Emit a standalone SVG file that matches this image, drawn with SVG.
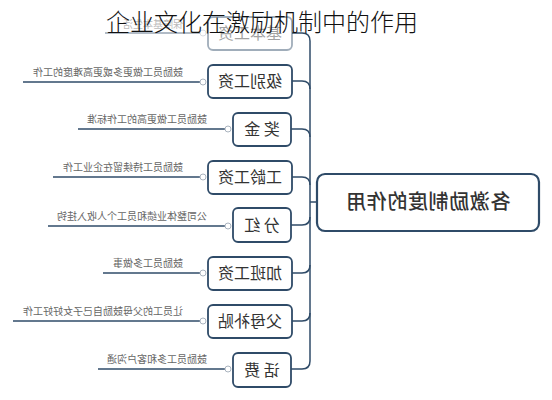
<svg xmlns="http://www.w3.org/2000/svg" width="552" height="400" viewBox="0 0 552 400">
<style>
.box{fill:#fff;stroke:#2f4b68;stroke-width:1.8}
.root{fill:#fff;stroke:#2f4b68;stroke-width:2.2}
.nt{font-family:"Noto Sans CJK SC","Noto Sans",sans-serif;font-size:16px;fill:#333;text-anchor:middle}
.rt{font-family:"Noto Sans CJK SC","Noto Sans",sans-serif;font-size:20px;font-weight:500;fill:#333;text-anchor:middle;letter-spacing:0.6px}
.lt{font-family:"Noto Sans CJK SC","Noto Sans",sans-serif;font-size:10px;fill:#666}
.ln{fill:none;stroke:#2f4b68;stroke-width:1.5}
.dot{fill:#fff;stroke:#aab4bf;stroke-width:1}
</style>
<g transform="matrix(-1 0 0 1 552 0)">
<g id="connectors">
<path class="ln" d="M242,41 V361"/>
<path class="ln" d="M242,202 H235"/>
<path class="ln" d="M260,33 H250 Q242,33 242,41"/>
<path class="ln" d="M260,81 H250 Q242,81 242,89"/>
<path class="ln" d="M261,129 H250 Q242,129 242,137"/>
<path class="ln" d="M260,177 H250 Q242,177 242,185"/>
<path class="ln" d="M261,225 H250 Q242,225 242,217"/>
<path class="ln" d="M260,273 H250 Q242,273 242,265"/>
<path class="ln" d="M260,321 H250 Q242,321 242,313"/>
<path class="ln" d="M261,369 H250 Q242,369 242,361"/>
<path class="ln" d="M352,33 H447" opacity="0.5"/>
<path class="ln" d="M352,82 H529"/>
<path class="ln" d="M327,129 H474"/>
<path class="ln" d="M352,177 H499"/>
<path class="ln" d="M327,226 H504"/>
<path class="ln" d="M352,273 H449"/>
<path class="ln" d="M352,321 H539"/>
<path class="ln" d="M327,369 H454"/>
</g>
<g id="root">
<rect class="root" x="13" y="174" width="222" height="57" rx="8"/>
<text class="rt" x="124" y="209">各激励制度的作用</text>
</g>
<g id="n1" opacity="0.45">
<rect class="box" x="260" y="17" width="84" height="33" rx="5"/>
<text class="nt" x="302" y="39">基本工资</text>
<circle class="dot" cx="349" cy="33" r="3"/>
<text class="lt" x="369" y="28">保障基本生活</text>
</g>
<g id="n2">
<rect class="box" x="260" y="65" width="84" height="33" rx="5"/>
<text class="nt" x="302" y="87">级别工资</text>
<circle class="dot" cx="349" cy="82" r="3"/>
<text class="lt" x="369" y="76">鼓励员工做更多或更高难度的工作</text>
</g>
<g id="n3">
<rect class="box" x="261" y="113" width="58" height="33" rx="5"/>
<text class="nt" x="290" y="135">奖 金</text>
<circle class="dot" cx="324" cy="129" r="3"/>
<text class="lt" x="345" y="123">鼓励员工做更高的工作标准</text>
</g>
<g id="n4">
<rect class="box" x="260" y="161" width="84" height="33" rx="5"/>
<text class="nt" x="302" y="183">工龄工资</text>
<circle class="dot" cx="349" cy="177" r="3"/>
<text class="lt" x="369" y="171">鼓励员工持续留在企业工作</text>
</g>
<g id="n5">
<rect class="box" x="261" y="208" width="58" height="34" rx="5"/>
<text class="nt" x="290" y="231">分 红</text>
<circle class="dot" cx="324" cy="226" r="3"/>
<text class="lt" x="345" y="220">公司整体业绩和员工个人收入挂钩</text>
</g>
<g id="n6">
<rect class="box" x="260" y="257" width="84" height="33" rx="5"/>
<text class="nt" x="302" y="279">加班工资</text>
<circle class="dot" cx="349" cy="273" r="3"/>
<text class="lt" x="369" y="267">鼓励员工多做事</text>
</g>
<g id="n7">
<rect class="box" x="260" y="305" width="84" height="33" rx="5"/>
<text class="nt" x="302" y="327">父母补贴</text>
<circle class="dot" cx="349" cy="321" r="3"/>
<text class="lt" x="369" y="315">让员工的父母鼓励自己子女好好工作</text>
</g>
<g id="n8">
<rect class="box" x="261" y="353" width="58" height="34" rx="5"/>
<text class="nt" x="290" y="376">话 费</text>
<circle class="dot" cx="324" cy="369" r="3"/>
<text class="lt" x="345" y="363">鼓励员工多和客户沟通</text>
</g>
</g>
<g id="title">
<text x="262" y="31" font-family="Noto Sans CJK SC, sans-serif" font-size="24" font-weight="300" fill="#111" text-anchor="middle">企业文化在激励机制中的作用</text>
</g>
</svg>
